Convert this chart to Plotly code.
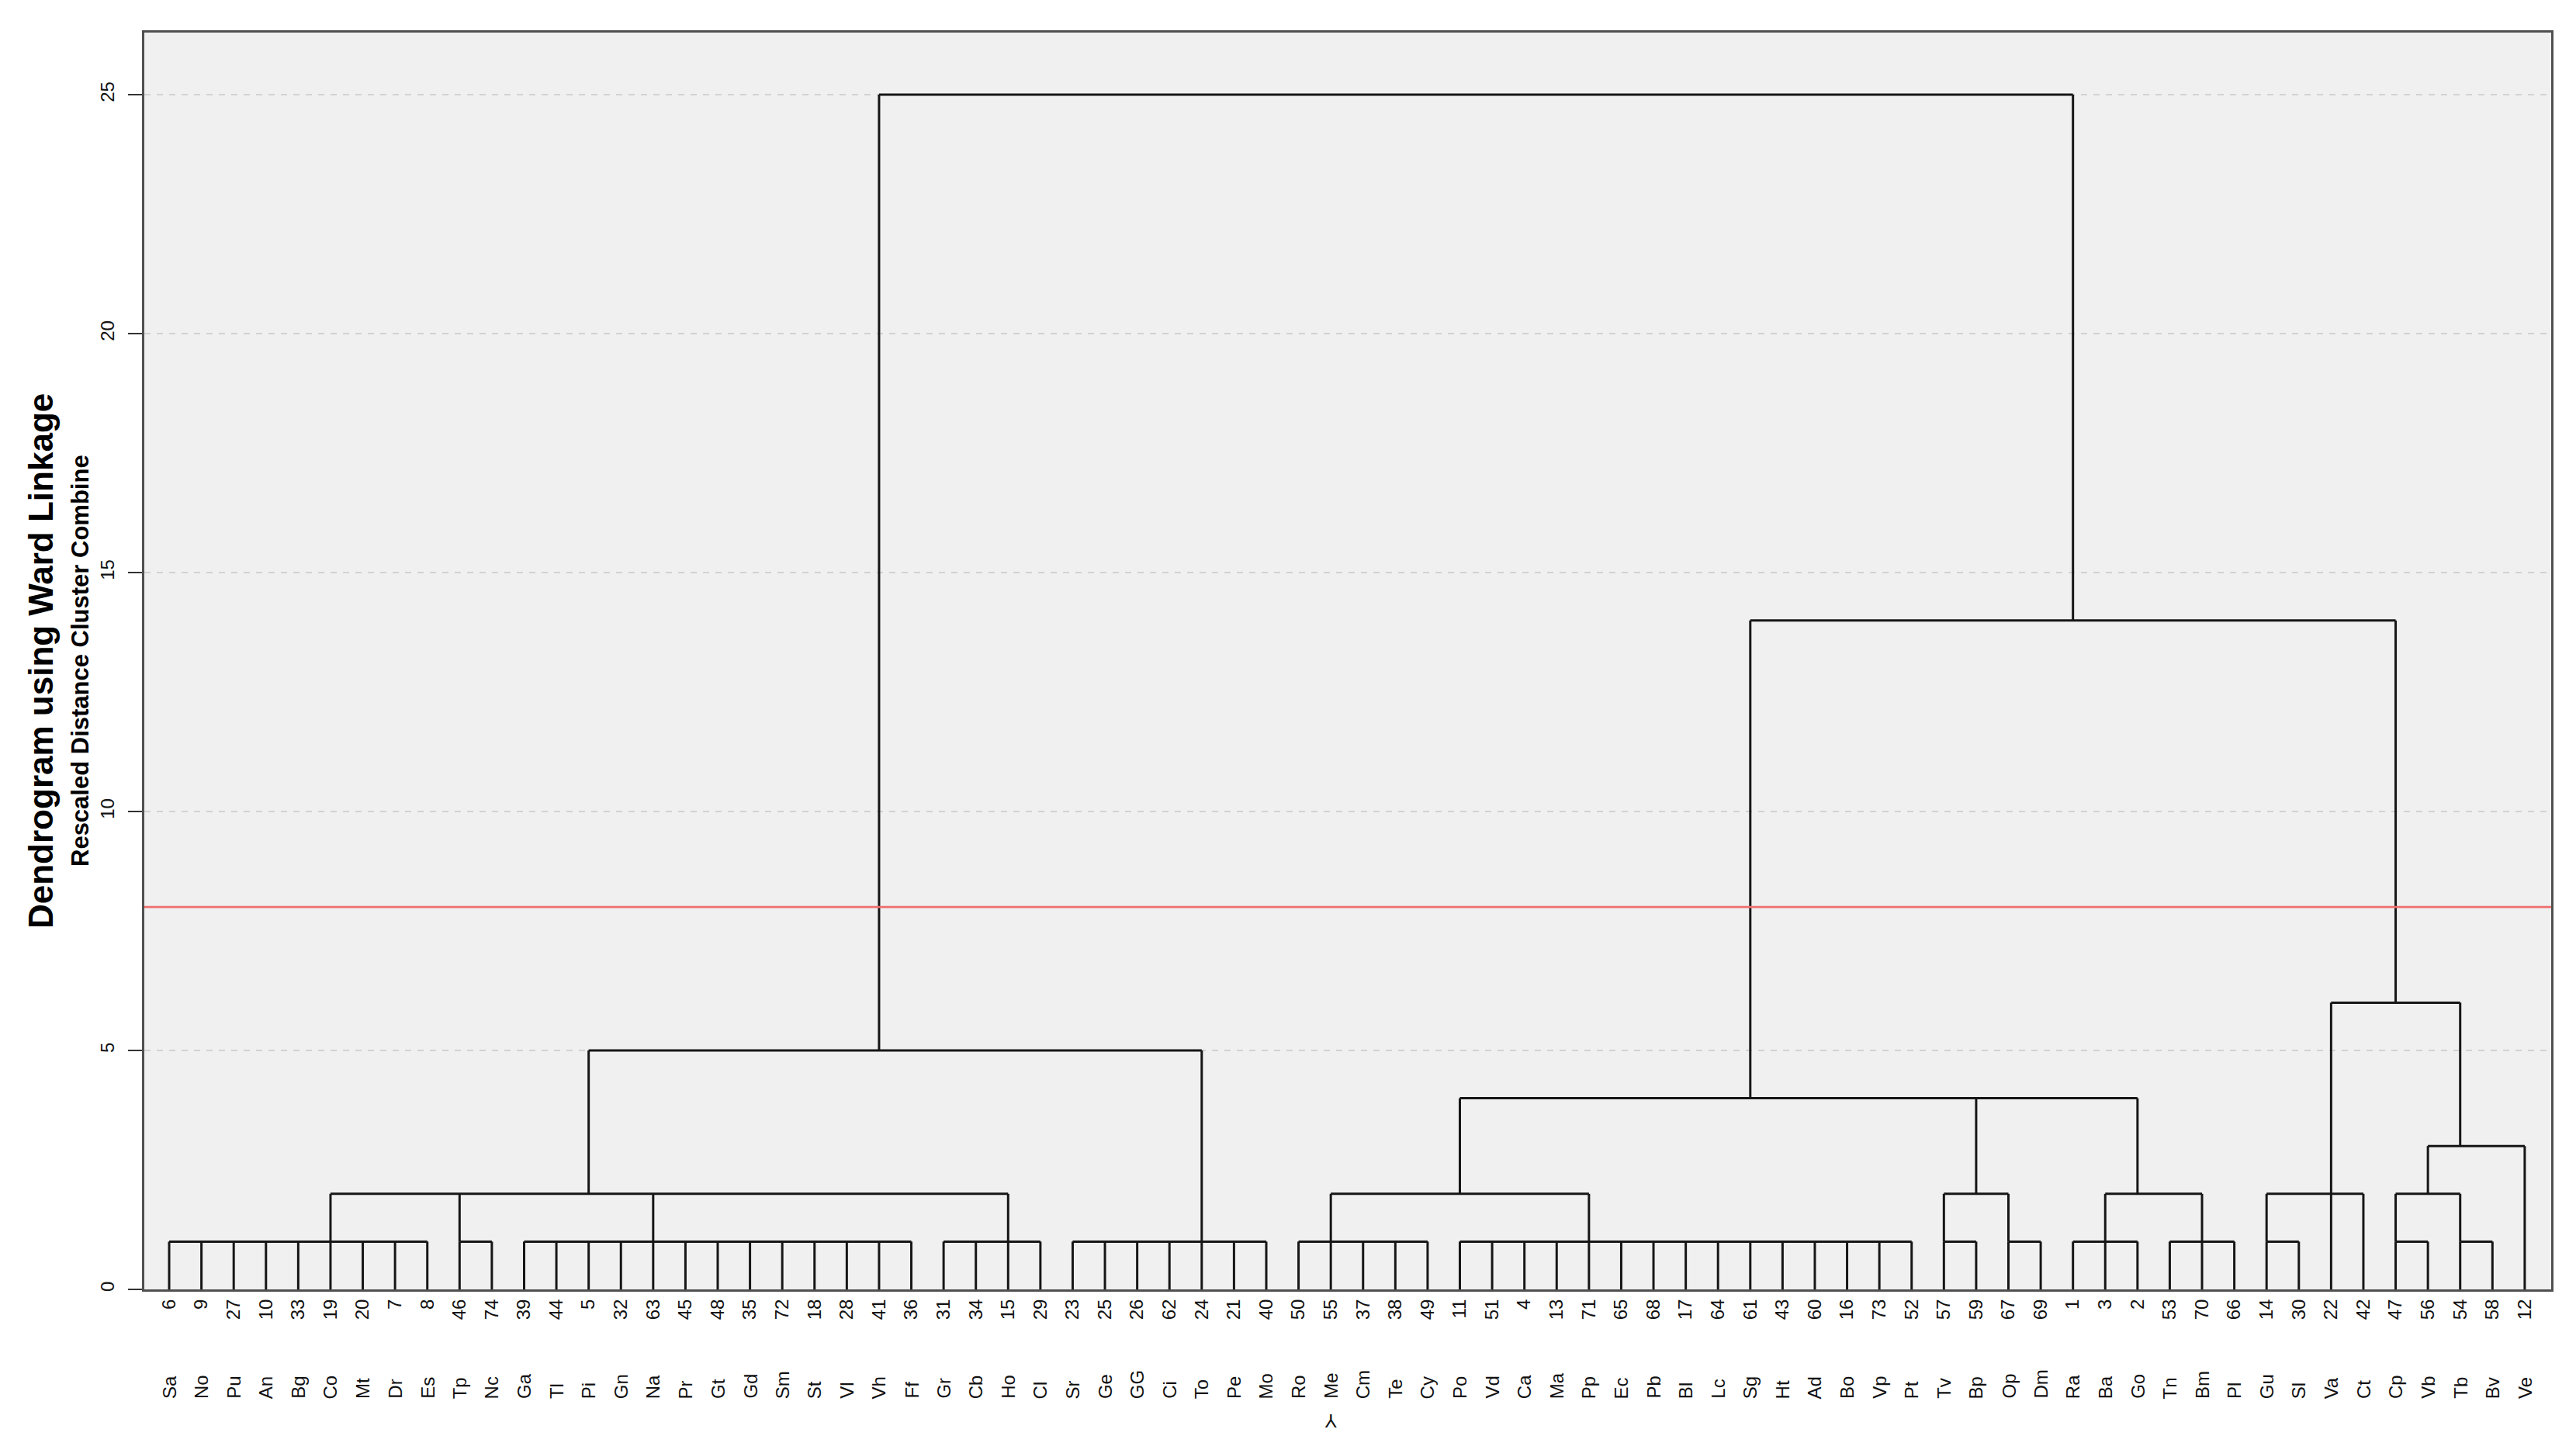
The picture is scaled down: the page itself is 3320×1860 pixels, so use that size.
import plotly.graph_objects as go

# ---------------- data ----------------
leaf_ids = [6, 9, 27, 10, 33, 19, 20, 7, 8, 46, 74, 39, 44, 5, 32, 63, 45, 48, 35, 72,
            18, 28, 41, 36, 31, 34, 15, 29, 23, 25, 26, 62, 24, 21, 40, 50, 55, 37, 38, 49,
            11, 51, 4, 13, 71, 65, 68, 17, 64, 61, 43, 60, 16, 73, 52, 57, 59, 67, 69, 1,
            3, 2, 53, 70, 66, 14, 30, 22, 42, 47, 56, 54, 58, 12]
leaf_codes = ["Sa", "No", "Pu", "An", "Bg", "Co", "Mt", "Dr", "Es", "Tp", "Nc", "Ga", "Tl", "Pi",
              "Gn", "Na", "Pr", "Gt", "Gd", "Sm", "St", "Vl", "Vh", "Ff", "Gr", "Cb", "Ho", "Cl",
              "Sr", "Ge", "GG", "Ci", "To", "Pe", "Mo", "Ro", "Me", "Cm", "Te", "Cy", "Po", "Vd",
              "Ca", "Ma", "Pp", "Ec", "Pb", "Bl", "Lc", "Sg", "Ht", "Ad", "Bo", "Vp", "Pt", "Tv",
              "Bp", "Op", "Dm", "Ra", "Ba", "Go", "Tn", "Bm", "Pl", "Gu", "Sl", "Va", "Ct", "Cp",
              "Vb", "Tb", "Bv", "Ve"]

# merge nodes: name, rescaled distance, children (leaf ids or node names), leaf it rises from
node_names = ["C1", "C2", "C3", "C4", "C5", "C6", "C7", "C8", "C9", "C10", "C11", "C12", "C13", "C14",
              "L2", "R2a", "R2b", "R2c", "R2d", "R2e", "R3", "R4", "R6", "L5", "R14", "ROOT"]
node_heights = [1, 1, 1, 1, 1, 1, 1, 1, 1, 1, 1, 1, 1, 1,
                2, 2, 2, 2, 2, 2, 3, 4, 6, 5, 14, 25]
node_children = [
    [6, 9, 27, 10, 33, 19, 20, 7, 8],
    [46, 74],
    [39, 44, 5, 32, 63, 45, 48, 35, 72, 18, 28, 41, 36],
    [31, 34, 15, 29],
    [23, 25, 26, 62, 24, 21, 40],
    [50, 55, 37, 38, 49],
    [11, 51, 4, 13, 71, 65, 68, 17, 64, 61, 43, 60, 16, 73, 52],
    [57, 59],
    [67, 69],
    [1, 3, 2],
    [53, 70, 66],
    [14, 30],
    [47, 56],
    [54, 58],
    ["C1", "C2", "C3", "C4"],
    ["C6", "C7"],
    ["C8", "C9"],
    ["C10", "C11"],
    ["C12", 22, 42],
    ["C13", "C14"],
    ["R2e", 12],
    ["R2a", "R2b", "R2c"],
    ["R2d", "R3"],
    ["L2", "C5"],
    ["R4", "R6"],
    ["L5", "R14"],
]
node_anchor_leaf = [19, 46, 63, 15, 24, 55, 71, 57, 67, 3, 70, 14, 47, 54,
                    5, 11, 59, 2, 22, 56, 54, 61, 47, 41, 1, None]

cut_height = 8
y_ticks = [0, 5, 10, 15, 20, 25]
marker_leaf = 55
marker_text = "Y"

title_main = "Dendrogram using Ward Linkage"
title_sub = "Rescaled Distance Cluster Combine"

# ---------------- build line geometry ----------------
leaf_pos = {lid: i for i, lid in enumerate(leaf_ids)}
node_idx = {n: i for i, n in enumerate(node_names)}


def anchor_and_height(child):
    if isinstance(child, str):
        k = node_idx[child]
        return leaf_pos[node_anchor_leaf[k]], node_heights[k]
    return leaf_pos[child], 0


xs, ys = [], []
for name, h, children in zip(node_names, node_heights, node_children):
    cx = []
    for ch in children:
        ax, ah = anchor_and_height(ch)
        cx.append(ax)
        xs += [ax, ax, None]
        ys += [ah, h, None]
    xs += [min(cx), max(cx), None]
    ys += [h, h, None]

fig = go.Figure()
fig.add_trace(go.Scatter(x=xs, y=ys, mode="lines",
                         line=dict(color="#161616", width=3),
                         hoverinfo="skip", showlegend=False))

fig.add_hline(y=cut_height, line_color="#ee6e6e", line_width=2.8)

FONT = "Arial, 'Liberation Sans', sans-serif"

annotations = []
for i, code in enumerate(leaf_codes):
    annotations.append(dict(x=i, xref="x", y=0, yref="paper", text=code, showarrow=False,
                            textangle=-90, yanchor="bottom", xanchor="center", yshift=-143,
                            font=dict(size=24, color="#111", family=FONT)))
annotations.append(dict(x=leaf_pos[marker_leaf], xref="x", y=0, yref="paper", text=marker_text,
                        showarrow=False, textangle=180, yanchor="middle", xanchor="center",
                        yshift=-170, font=dict(size=24, color="#111", family=FONT)))
annotations.append(dict(x=0, xref="paper", y=0.5, yref="paper", text="<b>" + title_main + "</b>",
                        showarrow=False, textangle=-90, xanchor="center", yanchor="middle",
                        xshift=-134, font=dict(size=44, color="#000", family=FONT)))
annotations.append(dict(x=0, xref="paper", y=0.5, yref="paper", text="<b>" + title_sub + "</b>",
                        showarrow=False, textangle=-90, xanchor="center", yanchor="middle",
                        xshift=-83, font=dict(size=31, color="#000", family=FONT)))

fig.update_layout(
    width=3320, height=1860,
    margin=dict(l=186, r=32, t=42, b=198, pad=0),
    paper_bgcolor="white", plot_bgcolor="#f0f0f0",
    font=dict(family=FONT, color="#111"),
    annotations=annotations,
    showlegend=False,
)
fig.update_xaxes(
    range=[-0.77, len(leaf_ids) - 1 + 0.82],
    tickmode="array", tickvals=list(range(len(leaf_ids))), ticktext=[str(v) for v in leaf_ids],
    tickangle=-90, ticks="", tickfont=dict(size=24, color="#111"),
    showgrid=False, zeroline=False,
    showline=True, linecolor="#505050", linewidth=3, mirror=True,
)
fig.update_yaxes(
    range=[0, 26.3],
    tickmode="array", tickvals=y_ticks, ticktext=[str(v) for v in y_ticks],
    tickangle=-90, ticks="outside", ticklen=18, tickwidth=2, tickcolor="#333",
    tickfont=dict(size=24, color="#111"), ticklabelstandoff=8,
    showgrid=True, gridcolor="#d2d2d2", gridwidth=2, griddash="8px,8px",
    zeroline=False,
    showline=True, linecolor="#505050", linewidth=3, mirror=True,
)

fig.write_html("out.html", config={"displayModeBar": False},
               post_script="document.body.style.margin='0';")
